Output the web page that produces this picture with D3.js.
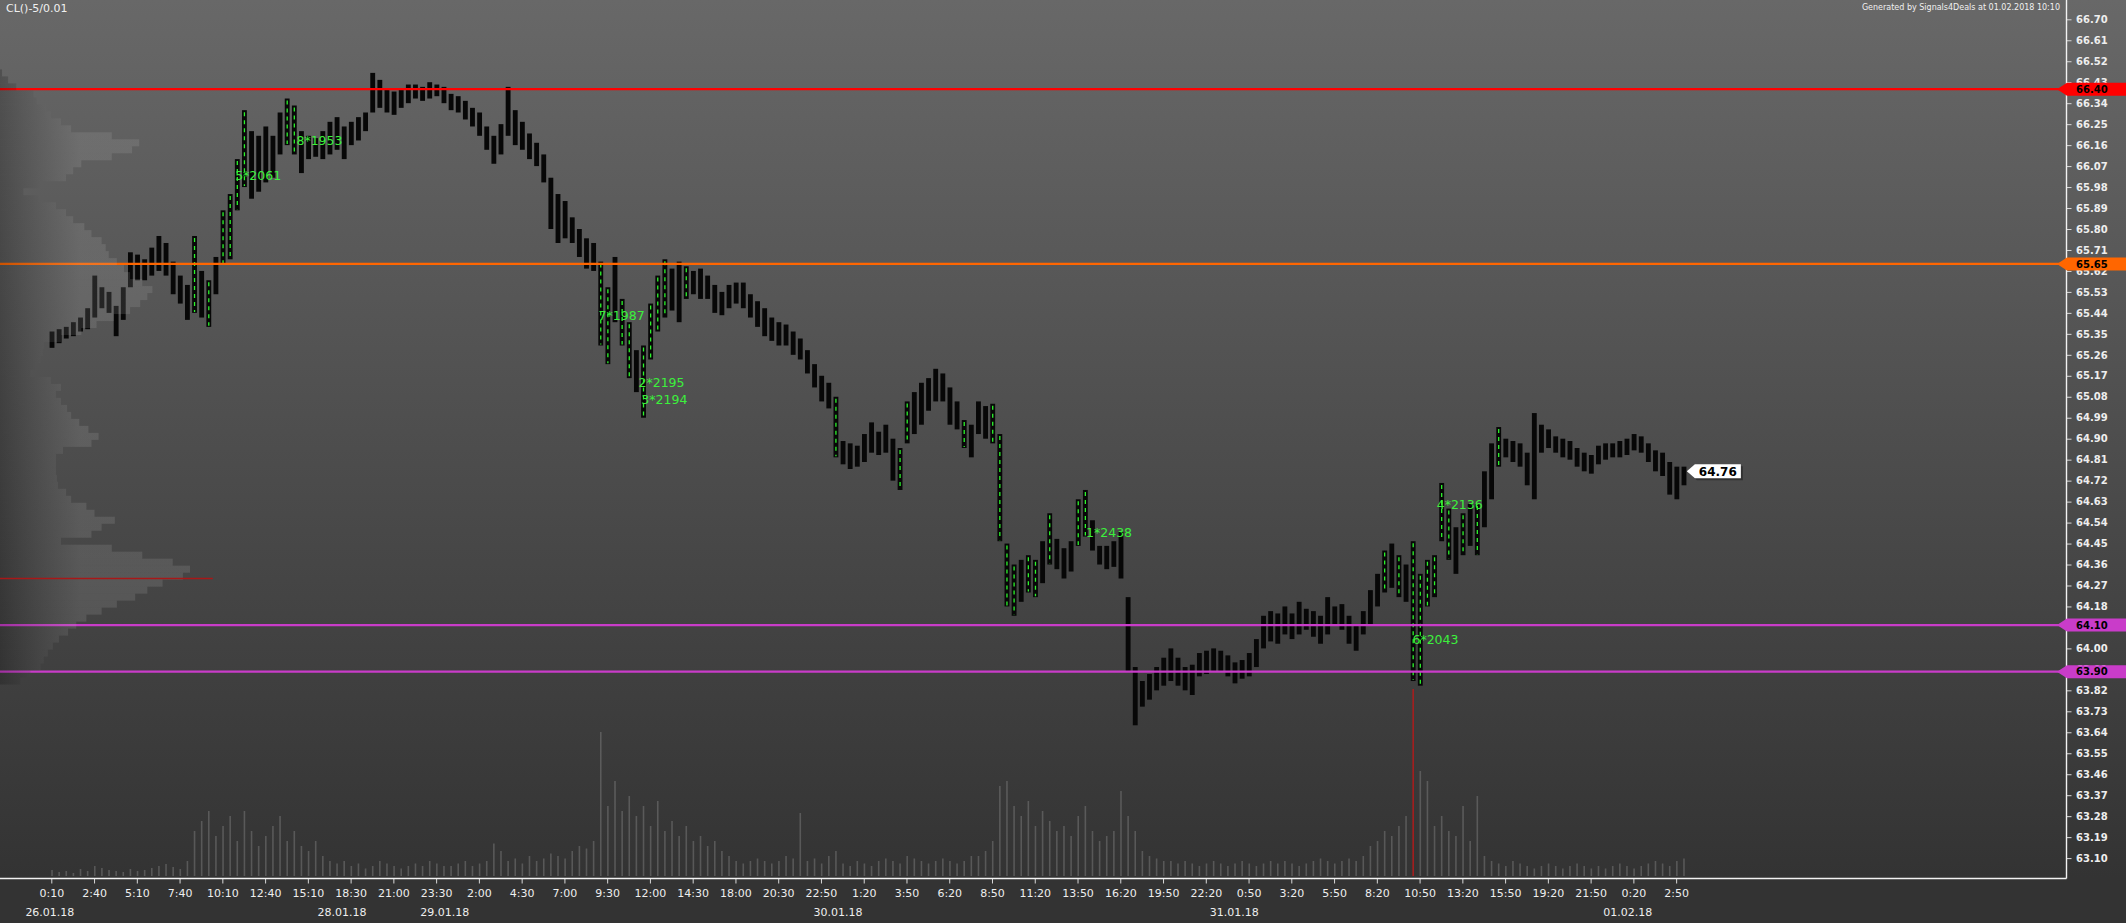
<!DOCTYPE html>
<html><head><meta charset="utf-8">
<script src="https://cdn.jsdelivr.net/npm/d3@7"></script>
<style>html,body{margin:0;padding:0;background:#333;overflow:hidden}</style>
</head><body>
<svg id="chart" width="2126" height="923"></svg>
<script>
// ---- DATA ----
// price samples: each entry covers 5 consecutive 5-minute bars (low/high of those bars)
const barsPerSample = 5;
const priceLow = [
65.29,65.31,65.33,65.34,65.36,65.37,65.42,65.46,65.44,65.34,
65.41,65.55,65.58,65.58,65.60,65.62,65.60,65.52,65.48,65.41,
65.44,65.42,65.38,65.52,65.65,65.67,65.88,65.98,65.93,65.96,
66.00,66.02,66.12,66.16,66.12,66.04,66.10,66.11,66.10,66.12,
66.14,66.10,66.16,66.18,66.22,66.30,66.32,66.30,66.29,66.32,
66.34,66.36,66.35,66.36,66.37,66.34,66.31,66.30,66.27,66.24,
66.20,66.14,66.08,66.12,66.20,66.16,66.14,66.10,66.07,66.00,
65.80,65.74,65.76,65.74,65.68,65.63,65.62,65.30,65.22,65.40,
65.30,65.16,65.10,64.99,65.24,65.36,65.42,65.45,65.40,65.50,
65.52,65.50,65.50,65.44,65.43,65.46,65.48,65.46,65.42,65.38,
65.34,65.32,65.30,65.30,65.26,65.24,65.18,65.12,65.06,65.03,
64.82,64.79,64.77,64.78,64.80,64.84,64.83,64.84,64.72,64.68,
64.88,64.92,64.96,65.02,65.06,65.06,64.96,64.94,64.86,64.82,
64.92,64.90,64.88,64.46,64.18,64.14,64.20,64.24,64.22,64.28,
64.36,64.34,64.30,64.33,64.44,64.48,64.42,64.36,64.34,64.35,
64.30,63.90,63.67,63.75,63.78,63.82,63.84,63.86,63.84,63.82,
63.80,63.88,63.89,63.90,63.90,63.88,63.85,63.87,63.88,63.92,
64.00,64.03,64.02,64.06,64.04,64.06,64.08,64.05,64.02,64.06,
64.10,64.08,64.02,63.99,64.06,64.10,64.18,64.24,64.26,64.22,
64.20,63.86,63.84,64.18,64.22,64.46,64.38,64.32,64.40,64.44,
64.40,64.52,64.64,64.78,64.82,64.80,64.78,64.70,64.64,64.84,
64.86,64.84,64.82,64.81,64.78,64.76,64.75,64.79,64.81,64.82,
64.82,64.83,64.85,64.84,64.80,64.76,64.74,64.66,64.64,64.70];
const priceHigh = [
65.36,65.37,65.38,65.40,65.42,65.46,65.60,65.55,65.53,65.47,
65.55,65.70,65.69,65.67,65.72,65.77,65.74,65.66,65.60,65.56,
65.77,65.62,65.58,65.68,65.88,65.95,66.10,66.31,66.22,66.20,
66.24,66.20,66.30,66.36,66.33,66.22,66.20,66.19,66.22,66.26,
66.28,66.24,66.26,66.28,66.30,66.47,66.44,66.40,66.39,66.40,
66.42,66.42,66.41,66.43,66.42,66.41,66.38,66.37,66.35,66.32,
66.30,66.24,66.20,66.25,66.41,66.31,66.26,66.21,66.17,66.12,
66.02,65.95,65.92,65.85,65.80,65.76,65.74,65.66,65.55,65.68,
65.50,65.40,65.28,65.30,65.48,65.60,65.67,65.63,65.66,65.64,
65.62,65.63,65.60,65.56,65.53,65.56,65.57,65.57,65.52,65.49,
65.46,65.42,65.40,65.39,65.36,65.33,65.28,65.22,65.17,65.14,
65.08,64.89,64.88,64.87,64.92,64.97,64.93,64.96,64.90,64.86,
65.06,65.10,65.14,65.16,65.20,65.18,65.12,65.06,64.98,64.96,
65.06,65.04,65.05,64.92,64.45,64.36,64.38,64.40,64.38,64.46,
64.58,64.47,64.43,64.46,64.64,64.68,64.55,64.44,64.44,64.46,
64.50,64.22,63.92,63.86,63.89,63.92,63.96,64.00,63.96,63.92,
63.93,63.98,63.99,64.00,63.99,63.97,63.94,63.95,63.98,64.04,
64.14,64.16,64.15,64.18,64.15,64.20,64.17,64.16,64.14,64.22,
64.18,64.19,64.14,64.10,64.16,64.25,64.32,64.42,64.45,64.40,
64.36,64.46,64.32,64.38,64.40,64.71,64.60,64.52,64.58,64.62,
64.62,64.76,64.88,64.95,64.90,64.89,64.88,64.84,65.01,64.96,
64.94,64.91,64.90,64.89,64.86,64.84,64.83,64.87,64.88,64.88,
64.89,64.90,64.92,64.91,64.88,64.85,64.84,64.80,64.78,64.78];
// samples containing signal (green) bars
const greenSamples = [20,22,24,25,26,27,33,34,77,78,80,81,83,84,85,86,89,110,119,120,128,132,133,134,135,137,138,140,144,145,187,189,191,192,193,194,195,196,198,200,203];
// volume per sample (contracts)
const volume = [
120,80,100,60,140,100,200,160,120,100,80,140,100,120,160,200,240,180,140,300,
900,1100,1300,800,1000,1200,700,1300,900,600,800,1000,1200,700,900,600,500,700,400,300,250,
300,200,250,150,200,300,250,200,150,200,250,200,300,250,200,
200,250,300,200,250,300,650,500,
300,350,250,400,300,350,450,400,350,500,600,550,700,
2880,
1400,1900,1300,1600,1200,1400,1000,1500,900,1100,800,1000,700,800,600,700,500,400,
300,250,300,350,300,250,300,400,350,1260,300,350,250,400,500,
250,200,300,250,200,300,350,300,250,400,350,300,250,300,350,300,250,300,400,
400,500,700,1800,1900,1400,1200,1500,1000,1300,1100,900,1000,800,1200,1400,900,700,800,900,1700,1200,900,
500,400,350,300,300,250,300,250,200,250,300,250,200,250,300,250,200,250,300,250,300,250,200,250,300,350,300,250,300,350,300,
400,600,700,900,800,1000,1200,
3740,
2100,
1900,1000,1200,900,800,1400,700,1600,
400,300,250,200,300,250,200,150,200,250,200,150,200,250,200,150,200,150,200,250,200,150,200,250,300,250,200,300,350];
// volume profile (price level -> volume)
const profilePrice = [66.47,66.44,66.41,66.38,66.35,66.32,66.29,66.26,66.23,66.20,66.17,66.14,66.11,66.08,66.05,66.02,65.99,65.96,65.93,65.90,65.87,65.84,65.81,65.78,65.75,65.72,65.69,65.66,65.63,65.60,65.57,65.54,65.51,65.48,65.45,65.42,65.39,65.36,65.33,65.30,65.27,65.24,65.21,65.18,65.15,65.12,65.09,65.06,65.03,65.00,64.97,64.94,64.91,64.88,64.85,64.82,64.79,64.76,64.73,64.70,64.67,64.64,64.61,64.58,64.55,64.52,64.49,64.46,64.43,64.40,64.37,64.34,64.31,64.28,64.25,64.22,64.19,64.16,64.13,64.10,64.07,64.04,64.01,63.98,63.95,63.92,63.89,63.86];
const profileVolume = [20,80,160,330,360,450,500,600,700,1100,1370,1300,1100,800,720,650,400,230,380,550,650,720,830,900,1000,1040,1070,1150,1220,1280,1400,1500,1450,1380,1280,1120,950,800,600,430,420,400,350,300,500,600,550,600,660,700,780,870,970,900,620,550,550,550,560,570,650,700,850,930,1130,1000,900,600,1100,1400,1700,1870,1800,1600,1450,1330,1150,1000,850,750,670,580,520,470,430,400,300,200];
const pocPrice = 64.30;
const levelPrices = [66.40, 65.65, 64.10, 63.90];
const levelLabels = ["66.40", "65.65", "64.10", "63.90"];
const levelColors = ["#ff0000", "#ff6600", "#c93cc9", "#c93cc9"];
const yTickLabels = ["63.10","63.19","63.28","63.37","63.46","63.55","63.64","63.73","63.82","63.91","64.00","64.09","64.18","64.27","64.36","64.45","64.54","64.63","64.72","64.81","64.90","64.99","65.08","65.17","65.26","65.35","65.44","65.53","65.62","65.71","65.80","65.89","65.98","66.07","66.16","66.25","66.34","66.43","66.52","66.61","66.70"];
const xTickLabels = ["0:10","2:40","5:10","7:40","10:10","12:40","15:10","18:30","21:00","23:30","2:00","4:30","7:00","9:30","12:00","14:30","18:00","20:30","22:50","1:20","3:50","6:20","8:50","11:20","13:50","16:20","19:50","22:20","0:50","3:20","5:50","8:20","10:50","13:20","15:50","19:20","21:50","0:20","2:50"];
const dateLabels = ["26.01.18","28.01.18","29.01.18","30.01.18","31.01.18","01.02.18"];
const dateBars = [1, 206, 278, 554, 832, 1108];
const signalLabels = ["5*2061","8*1953","7*1987","2*2195","3*2194","1*2438","4*2136","6*2043"];
const signalBars = [131,174,386,414,416,728,974,957];
const signalPrices = [66.01,66.16,65.41,65.12,65.05,64.48,64.60,64.02];
const lastBar = 1146;
const lastClose = 64.76;
const titleText = "CL()-5/0.01";
const creditText = "Generated by Signals4Deals at 01.02.2018 10:10";

// ---- LAYOUT ----
const W = 2126, H = 923;
const plotRight = 2066.5, plotBottom = 878.5;
const FONT = '"DejaVu Sans", Verdana, sans-serif';

const svg = d3.select('#chart');
const defs = svg.append('defs');
const bgGrad = defs.append('linearGradient').attr('id','bg').attr('x1',0).attr('y1',0).attr('x2',0).attr('y2',1);
bgGrad.append('stop').attr('offset','0%').attr('stop-color','#686868');
bgGrad.append('stop').attr('offset','100%').attr('stop-color','#333333');
const profGrad = defs.append('linearGradient').attr('id','prof').attr('gradientUnits','userSpaceOnUse')
  .attr('x1',0).attr('y1',0).attr('x2',80).attr('y2',0);
profGrad.append('stop').attr('offset','0%').attr('stop-color','#000').attr('stop-opacity',0.2);
profGrad.append('stop').attr('offset','100%').attr('stop-color','#b4b4b4').attr('stop-opacity',0.17);

svg.append('rect').attr('width',W).attr('height',H).attr('fill','#333');
svg.append('rect').attr('width',W).attr('height',plotBottom).attr('fill','url(#bg)');

const x = d3.scaleLinear().domain([0, 1150]).range([48.45, 48.45 + 1150 * 1.4253]);
const y = d3.scaleLinear().domain([63.10, 66.70]).range([858.1, 19.3]);

// ---- volume ----
const vMax = d3.max(volume);
const vScale = d3.scaleLinear().domain([0, vMax]).range([0, 187]);
const volBase = 876;
svg.append('g').selectAll('rect').data(volume).join('rect')
  .attr('x', (v, i) => x(i * barsPerSample + 2.5) - 0.8)
  .attr('width', 1.6)
  .attr('y', v => volBase - vScale(v))
  .attr('height', v => vScale(v))
  .attr('fill', v => v === vMax ? '#b01c1c' : '#8a8a8a')
  .attr('opacity', v => v === vMax ? 0.9 : 0.42);

// ---- price bars ----
const samples = priceHigh.map((h, i) => ({ i, high: h, low: priceLow[i], bar: i * barsPerSample }));
const gBars = svg.append('g');
const step = x(barsPerSample) - x(0);
gBars.selectAll('rect').data(samples).join('rect')
  .attr('x', d => x(d.bar) + step * 0.16)
  .attr('width', step * 0.68)
  .attr('y', d => y(d.high))
  .attr('height', d => Math.max(1.5, y(d.low) - y(d.high)))
  .attr('fill', '#070707');
const greenSet = new Set(greenSamples);
gBars.selectAll('line').data(samples.filter(d => greenSet.has(d.i))).join('line')
  .attr('x1', d => x(d.bar + 2.5)).attr('x2', d => x(d.bar + 2.5))
  .attr('y1', d => y(d.high) + 2).attr('y2', d => y(d.low) - 1)
  .attr('stroke', '#2cf52c').attr('stroke-width', 1.3).attr('stroke-dasharray', '4,4');

// ---- level lines ----
svg.append('g').selectAll('line').data(levelPrices).join('line')
  .attr('x1', 0).attr('x2', plotRight)
  .attr('y1', d => y(d)).attr('y2', d => y(d))
  .attr('stroke', (d, i) => levelColors[i]).attr('stroke-width', 2.2);

// ---- volume profile ----
const pScale = d3.scaleLinear().domain([0, d3.max(profileVolume)]).range([0, 190]);
svg.append('g').selectAll('rect').data(profilePrice).join('rect')
  .attr('x', 0)
  .attr('y', p => y(p + 0.015))
  .attr('height', p => y(p - 0.015) - y(p + 0.015))
  .attr('width', (p, i) => pScale(profileVolume[i]))
  .attr('fill', 'url(#prof)');
svg.append('line').attr('x1', 0).attr('x2', pScale(d3.max(profileVolume)) * 1.12)
  .attr('y1', y(pocPrice)).attr('y2', y(pocPrice))
  .attr('stroke', '#a81818').attr('stroke-width', 1.6);

// ---- signal labels ----
svg.append('g').selectAll('text').data(signalLabels).join('text')
  .attr('x', (d, i) => x(signalBars[i]))
  .attr('y', (d, i) => y(signalPrices[i]))
  .attr('fill', '#3cf03c')
  .style('font', `12.5px ${FONT}`)
  .text(d => d);

// ---- axes ----
const yAxis = d3.axisRight(y)
  .tickValues(yTickLabels.map(Number))
  .tickFormat((d, i) => yTickLabels[i])
  .tickSize(5).tickPadding(4.5);
const gy = svg.append('g').attr('transform', `translate(${plotRight},0)`).call(yAxis);
gy.select('.domain').remove();
gy.selectAll('line').attr('stroke', '#d8d8d8');
gy.selectAll('text').attr('fill', '#eeeeee').style('font', `bold 10px ${FONT}`);

const tickBars = xTickLabels.map((_, i) => 2 + 30 * i);
const xAxis = d3.axisBottom(x)
  .tickValues(tickBars)
  .tickFormat((d, i) => xTickLabels[i])
  .tickSize(5).tickPadding(6);
const gx = svg.append('g').attr('transform', `translate(0,${plotBottom})`).call(xAxis);
gx.select('.domain').remove();
gx.selectAll('line').attr('stroke', '#d8d8d8');
gx.selectAll('text').attr('fill', '#eeeeee').style('font', `11px ${FONT}`);

svg.append('g').selectAll('text').data(dateLabels).join('text')
  .attr('x', (d, i) => x(dateBars[i]))
  .attr('y', 916)
  .attr('text-anchor', 'middle')
  .attr('fill', '#eeeeee')
  .style('font', `11px ${FONT}`)
  .text(d => d);

svg.append('line').attr('x1', plotRight).attr('x2', plotRight).attr('y1', 0).attr('y2', plotBottom)
  .attr('stroke', '#f2f2f2').attr('stroke-width', 1.4);
svg.append('line').attr('x1', 0).attr('x2', plotRight).attr('y1', plotBottom).attr('y2', plotBottom)
  .attr('stroke', '#f2f2f2').attr('stroke-width', 1.4);

// ---- level tags on axis ----
const tags = svg.append('g').selectAll('g').data(levelPrices).join('g')
  .attr('transform', d => `translate(0,${y(d)})`);
tags.append('path')
  .attr('d', `M2057,0 L2067,-6.5 L${W},-6.5 L${W},6.5 L2067,6.5 Z`)
  .attr('fill', (d, i) => levelColors[i]);
tags.append('text')
  .attr('x', 2076).attr('y', 3.6)
  .attr('fill', '#000')
  .style('font', `bold 10px ${FONT}`)
  .text((d, i) => levelLabels[i]);

// ---- last price tag ----
const ly = y(lastClose);
const lx = x(lastBar) + 5;
const tagPath = `M${lx},0 L${lx + 8},-7 L${lx + 54},-7 L${lx + 54},7 L${lx + 8},7 Z`;
svg.append('path').attr('d', tagPath).attr('transform', `translate(2,${ly + 2})`)
  .attr('fill', '#1a1a1a').attr('opacity', 0.5);
svg.append('path').attr('d', tagPath).attr('transform', `translate(0,${ly})`).attr('fill', '#ffffff');
svg.append('text').attr('x', lx + 12).attr('y', ly + 4.3)
  .attr('fill', '#000').style('font', `bold 12px ${FONT}`)
  .text(lastClose.toFixed(2));

// ---- header texts ----
svg.append('text').attr('x', 6).attr('y', 11.5).attr('fill', '#f0f0f0')
  .style('font', `11px ${FONT}`).text(titleText);
svg.append('text').attr('x', 2060).attr('y', 9.5).attr('text-anchor', 'end').attr('fill', '#f0f0f0')
  .style('font', `8px ${FONT}`).text(creditText);
</script>
</body></html>
